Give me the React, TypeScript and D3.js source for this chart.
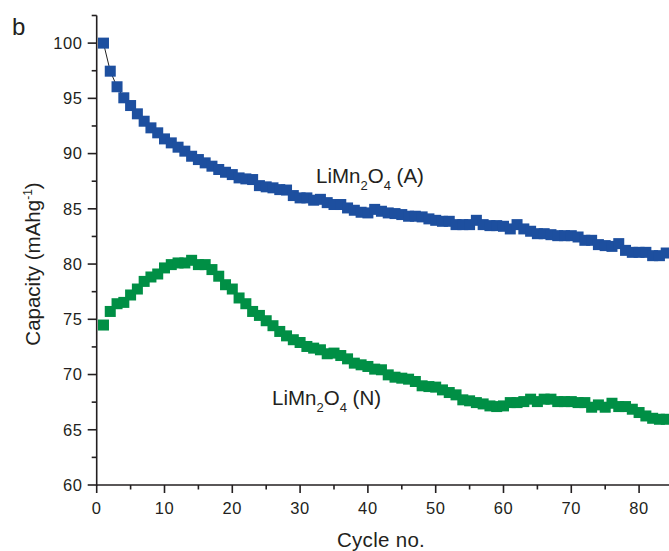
import React from "react";
import * as d3 from "d3";

const cycles: number[] = Array.from({ length: 84 }, (_, i) => i + 1);

const capacityA: number[] = [
  100.0, 97.46, 96.05, 95.05, 94.35, 93.6, 92.93, 92.33, 91.88, 91.33,
  90.97, 90.58, 90.22, 89.76, 89.46, 89.16, 88.86, 88.56, 88.31, 88.1,
  87.8, 87.71, 87.65, 87.1, 86.99, 86.9, 86.74, 86.7, 86.2, 85.99,
  85.99, 85.78, 85.86, 85.56, 85.39, 85.39, 85.08, 84.87, 84.69, 84.63,
  84.95, 84.78, 84.63, 84.57, 84.48, 84.33, 84.33, 84.27, 84.09, 83.96,
  83.87, 83.87, 83.57, 83.57, 83.57, 83.96, 83.57, 83.48, 83.48, 83.42,
  83.18, 83.57, 83.18, 82.97, 82.75, 82.75, 82.66, 82.57, 82.57, 82.57,
  82.45, 82.15, 82.15, 81.76, 81.67, 81.6, 81.85, 81.24, 81.06, 81.06,
  81.06, 80.76, 80.76, 81.0,
];

const capacityN: number[] = [
  74.48, 75.71, 76.41, 76.53, 77.2, 77.74, 78.43, 78.83, 79.1, 79.65,
  79.95, 80.1, 80.1, 80.34, 79.95, 79.95, 79.5, 78.9, 78.13, 77.74,
  76.93, 76.41, 75.71, 75.35, 74.87, 74.42, 73.9, 73.5, 73.15, 72.9,
  72.54, 72.39, 72.24, 71.88, 71.94, 71.72, 71.42, 71.03, 70.88, 70.73,
  70.49, 70.43, 69.97, 69.76, 69.67, 69.58, 69.37, 68.98, 68.91, 68.86,
  68.61, 68.37, 68.16, 67.71, 67.62, 67.46, 67.34, 67.16, 67.1, 67.16,
  67.46, 67.46, 67.55, 67.77, 67.55, 67.77, 67.77, 67.55, 67.55, 67.55,
  67.46, 67.46, 67.04, 67.25, 67.04, 67.4, 67.1, 67.1, 66.86, 66.56,
  66.25, 66.04, 65.95, 65.95,
];

const xMajorTicks: number[] = [0, 10, 20, 30, 40, 50, 60, 70, 80];
const xMinorTicks: number[] = [5, 15, 25, 35, 45, 55, 65, 75];
const yMajorTicks: number[] = [60, 65, 70, 75, 80, 85, 90, 95, 100];
const yMinorTicks: number[] = [62.5, 67.5, 72.5, 77.5, 82.5, 87.5, 92.5, 97.5, 102.5];

const W = 669;
const H = 551;
const FONT = "'Liberation Sans', Arial, Helvetica, sans-serif";
const INK = "#231f20";
const BLUE = "#1d4f9f";
const GREEN = "#008f45";

export default function App() {
  const x = d3.scaleLinear().domain([0, 84.5]).range([96.7, 669.6]);
  const y = d3.scaleLinear().domain([60, 102.5]).range([485, 15.5]);
  const ms = 11;

  const lineA = d3
    .line<number>()
    .x((_, i) => x(cycles[i]))
    .y((d) => y(d));

  return (
    <svg
      width={W}
      height={H}
      style={{ position: "absolute", left: 0, top: 0, background: "#fff" }}
      fontFamily={FONT}
    >
      <rect x={0} y={0} width={W} height={H} fill="#fff" />
      {/* panel label */}
      <text x={12} y={35} fontSize={24} fill={INK}>
        b
      </text>

      {/* series A line + markers */}
      <path d={lineA(capacityA) || ""} fill="none" stroke="#222" strokeWidth={1} />
      {capacityA.map((v, i) => (
        <rect
          key={"a" + i}
          x={x(cycles[i]) - ms / 2}
          y={y(v) - ms / 2}
          width={ms}
          height={ms}
          fill={BLUE}
        />
      ))}
      {capacityN.map((v, i) => (
        <rect
          key={"n" + i}
          x={x(cycles[i]) - ms / 2}
          y={y(v) - ms / 2}
          width={ms}
          height={ms}
          fill={GREEN}
        />
      ))}

      {/* axes */}
      <line x1={x(0)} x2={W} y1={y(60)} y2={y(60)} stroke={INK} strokeWidth={1.6} />
      <line x1={x(0)} x2={x(0)} y1={y(60) + 0.8} y2={y(102.5)} stroke={INK} strokeWidth={1.6} />

      {xMajorTicks.map((t) => (
        <g key={"xt" + t}>
          <line x1={x(t)} x2={x(t)} y1={y(60)} y2={y(60) + 8} stroke={INK} strokeWidth={1.6} />
          <text x={x(t)} y={513.5} fontSize={16.5} textAnchor="middle" fill={INK} letterSpacing={0.6}>
            {t}
          </text>
        </g>
      ))}
      {xMinorTicks.map((t) => (
        <line key={"xm" + t} x1={x(t)} x2={x(t)} y1={y(60)} y2={y(60) + 4.5} stroke={INK} strokeWidth={1.6} />
      ))}
      {yMajorTicks.map((t) => (
        <g key={"yt" + t}>
          <line x1={x(0) - 9} x2={x(0)} y1={y(t)} y2={y(t)} stroke={INK} strokeWidth={1.6} />
          <text x={82.5} y={y(t) + 5.8} fontSize={16.5} textAnchor="end" fill={INK} letterSpacing={0.6}>
            {t}
          </text>
        </g>
      ))}
      {yMinorTicks.map((t) => (
        <line key={"ym" + t} x1={x(0) - 5} x2={x(0)} y1={y(t)} y2={y(t)} stroke={INK} strokeWidth={1.6} />
      ))}

      {/* axis titles */}
      <text x={381} y={547} fontSize={20.5} textAnchor="middle" fill={INK} letterSpacing={0.3}>
        Cycle no.
      </text>
      <text
        transform={`translate(40,264) rotate(-90)`}
        fontSize={20.5}
        textAnchor="middle"
        fill={INK}
      >
        Capacity (mAhg
        <tspan fontSize={12} dy={-8}>-1</tspan>
        <tspan dy={8}>)</tspan>
      </text>

      {/* series labels */}
      <text x={316} y={183} fontSize={20.5} fill={INK}>
        LiMn<tspan fontSize={13} dy={7}>2</tspan>
        <tspan dy={-7}>O</tspan>
        <tspan fontSize={13} dy={7}>4</tspan>
        <tspan dy={-7}> (A)</tspan>
      </text>
      <text x={272} y={405} fontSize={20.5} fill={INK}>
        LiMn<tspan fontSize={13} dy={7}>2</tspan>
        <tspan dy={-7}>O</tspan>
        <tspan fontSize={13} dy={7}>4</tspan>
        <tspan dy={-7}> (N)</tspan>
      </text>
    </svg>
  );
}
